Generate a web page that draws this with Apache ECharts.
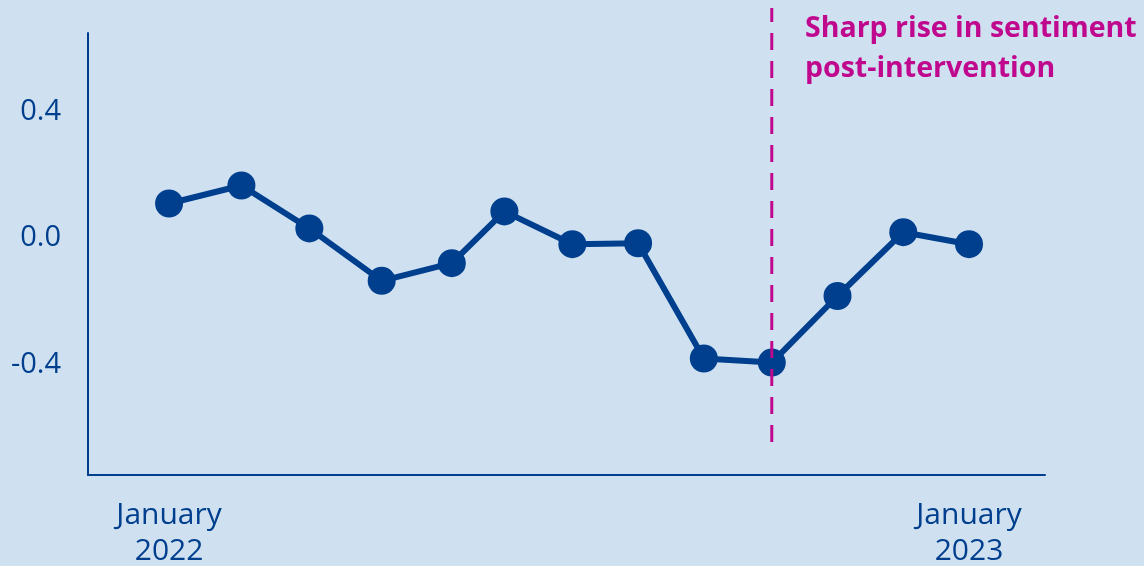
<!DOCTYPE html>
<html><head><meta charset="utf-8">
<script src="https://cdn.jsdelivr.net/npm/echarts@6/dist/echarts.min.js"></script>
<style>html,body{margin:0;padding:0;background:#cfe1f1;}#c{width:1144px;height:566px;}</style>
</head><body><div id="c"></div>
<script>
// Data
const dates = ['2022-01-01','2022-02-03','2022-03-06','2022-04-08','2022-05-10','2022-06-03','2022-07-04','2022-08-03','2022-09-02','2022-10-03','2022-11-02','2022-12-02','2023-01-01'];
const sentiment = [0.11, 0.167, 0.031, -0.135, -0.079, 0.085, -0.019, -0.016, -0.381, -0.394, -0.183, 0.019, -0.019];
const xLabelDates = ['2022-01-01','2023-01-01'];
const yTicks = [-0.4, 0.0, 0.4];
const interventionDate = '2022-10-03';
const annotation = 'Sharp rise in sentiment\npost-intervention';
const xRange = ['2021-11-25T00:00', '2023-02-04T16:00'];

function ts(s){ const [d,t] = s.split('T'); const [y,m,dd] = d.split('-').map(Number); let h=0,mi=0; if(t){[h,mi]=t.split(':').map(Number);} return new Date(y,m-1,dd,h,mi).getTime(); }
const months = ['January','February','March','April','May','June','July','August','September','October','November','December'];
const navy = '#003f8e', magenta = '#c0088f', font = 'Open Sans';

const chart = echarts.init(document.getElementById('c'), null, {renderer:'canvas'});
chart.setOption({
  backgroundColor: '#cfe1f1',
  animation: false,
  grid: [
    {left: 88, right: 99, top: 33, bottom: 91, outerBoundsMode:'none', containLabel:false},
    {left: 88, right: 99, top: 8, bottom: 124, outerBoundsMode:'none', containLabel:false}
  ],
  xAxis: [
    {type:'value', gridIndex:0, min: ts(xRange[0]), max: ts(xRange[1]),
     axisLine:{show:true, onZero:false, lineStyle:{color:navy, width:2}}, axisTick:{show:false}, splitLine:{show:false},
     axisLabel:{customValues: xLabelDates.map(ts), color:navy, fontFamily:font, fontSize:30, lineHeight:36, margin:22,
       formatter: v => { const d = new Date(v); return months[d.getMonth()] + '\n' + d.getFullYear(); }}},
    {type:'value', gridIndex:1, min: ts(xRange[0]), max: ts(xRange[1]), show:false}
  ],
  yAxis: [
    {type:'value', gridIndex:0, min:-0.75, max:0.65,
     axisLine:{show:true, onZero:false, lineStyle:{color:navy, width:2}}, axisTick:{show:false}, splitLine:{show:false},
     axisLabel:{customValues: yTicks, color:navy, fontFamily:font, fontSize:29, margin:27,
       formatter: v => v.toFixed(1)}},
    {type:'value', gridIndex:1, min:0, max:1, show:false}
  ],
  series: [
    {type:'line', xAxisIndex:0, yAxisIndex:0, data: dates.map((d,i)=>[ts(d), sentiment[i]]),
     symbol:'circle', symbolSize:28, lineStyle:{color:navy, width:6}, itemStyle:{color:navy}, z:2},
    {type:'line', xAxisIndex:1, yAxisIndex:1, data: [[ts(interventionDate),0],[ts(interventionDate),1]],
     symbol:'none', lineStyle:{color:magenta, width:3, type:[17,11]}, z:3}
  ],
  graphic: [
    {type:'text', left: 805, top: 9, style:{text: annotation, fill: magenta, font: 'bold 28.5px "Open Sans"', lineHeight: 40}}
  ]
});
</script></body></html>
